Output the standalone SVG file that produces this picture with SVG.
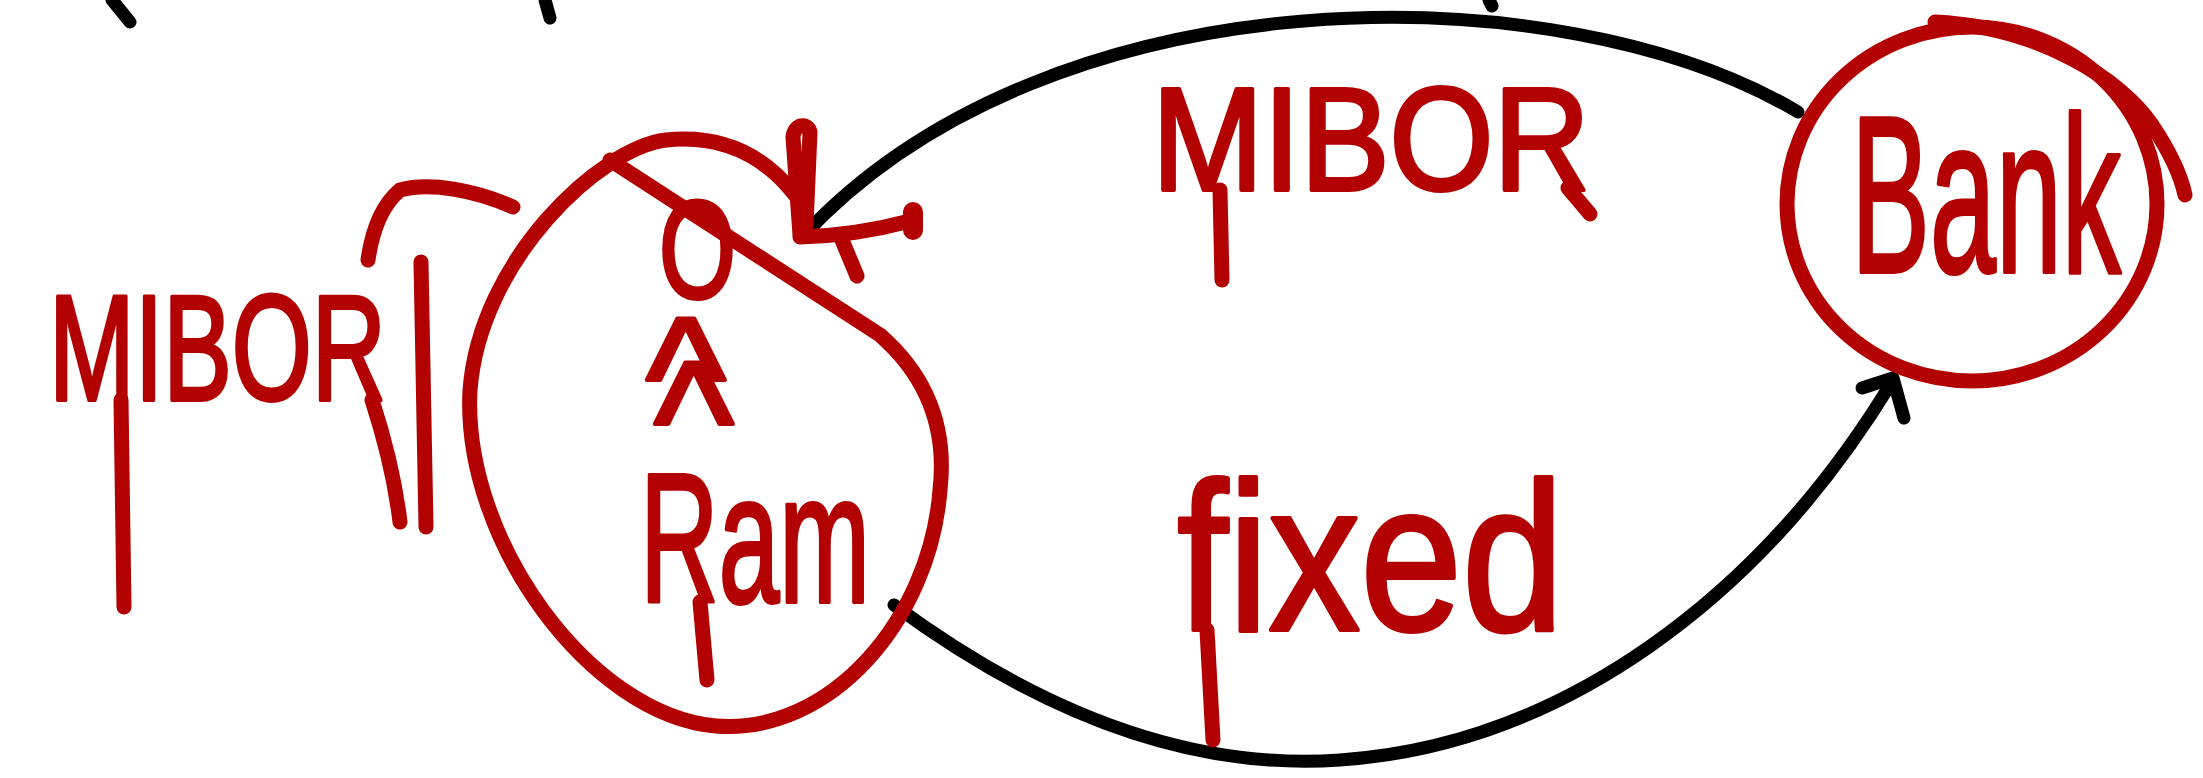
<svg xmlns="http://www.w3.org/2000/svg" width="2203" height="778" viewBox="0 0 2203 778">
<style>
.red{fill:none;stroke:#b30000;stroke-width:15;stroke-linecap:round;stroke-linejoin:round}
.blk{fill:none;stroke:#000;stroke-width:13;stroke-linecap:round;stroke-linejoin:round}
.t{font-family:"Liberation Sans",Arial,sans-serif;fill:#b30000;stroke:#b30000;stroke-width:4;stroke-linejoin:round}
</style>
<rect width="2203" height="778" fill="#fff"/>
<g id="fragments">
<path class="blk" d="M112,0 L130,22"/>
<path class="blk" d="M545,0 L550,18"/>
<path class="blk" d="M1489,0 L1492,6"/>
</g>
<g id="connectors">
<path class="blk" d="M1798,112 C1560,-30 1050,-30 803,236"/>
<path class="red" d="M800,235 L793,137 C794,124 808,122 810,132 L806,225"/>
<path class="red" d="M800,237 C840,236 880,229 910,221"/>
<path class="red" d="M913,212 L913,230" style="stroke-width:20"/>
<path class="red" d="M842,240 L857,276"/>
<path class="blk" d="M894,605 C1050,720 1200,770 1340,760 C1560,745 1760,600 1893,380"/>
<path class="blk" d="M1862,388 L1893,378 L1904,418"/>
</g>
<g id="ram">
<path class="red" d="M795,195 C760,150 715,135 666,140 C600,148 480,260 470,390 C462,540 590,715 716,726 C830,735 930,620 940,490 C948,420 920,370 880,335 L610,160"/>
<text class="t"><tspan x="659" y="298" font-size="140" textLength="77" lengthAdjust="spacingAndGlyphs">O</tspan><tspan x="646" y="436" font-size="170">^</tspan><tspan x="654" y="480" font-size="170">^</tspan><tspan x="640" y="602" font-size="184" textLength="230" lengthAdjust="spacingAndGlyphs">Ram</tspan></text>
<path class="red" d="M700,602 L707,680"/>
</g>
<g id="bank">
<ellipse class="red" cx="1972" cy="204" rx="185" ry="177"/>
<path class="red" d="M1935,22 C2040,27 2122,80 2152,125 C2172,155 2181,176 2185,195"/>
<text class="t" x="1851" y="272" font-size="222" textLength="270" lengthAdjust="spacingAndGlyphs">Bank</text>
</g>
<g id="label-mibor-top">
<text class="t" x="1152" y="190" font-size="147" textLength="438" lengthAdjust="spacingAndGlyphs">MIBOR</text>
<path class="red" d="M1220,190 L1222,280"/>
<path class="red" d="M1568,188 L1590,214"/>
</g>
<g id="label-mibor-left">
<text class="t" x="49" y="400" font-size="150" textLength="337" lengthAdjust="spacingAndGlyphs">MIBOR</text>
<path class="red" d="M121,400 L124,607"/>
<path class="red" d="M372,400 C385,440 395,480 400,522"/>
<path class="red" d="M368,260 C372,232 382,205 400,190 C430,182 475,190 513,207"/>
<path class="red" d="M421,262 L426,527"/>
</g>
<g id="label-fixed">
<text class="t" x="1177" y="630" font-size="212" textLength="387" lengthAdjust="spacingAndGlyphs">fixed</text>
<path class="red" d="M1207,630 L1213,740"/>
</g>
</svg>
